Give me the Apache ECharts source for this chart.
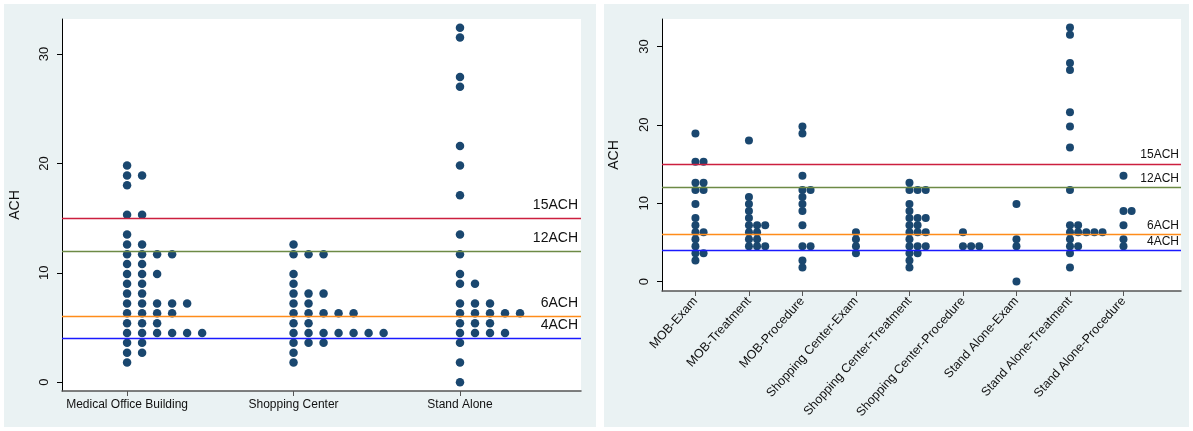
<!DOCTYPE html>
<html>
<head>
<meta charset="utf-8">
<title>ACH by building and room type</title>
<script src="https://cdn.jsdelivr.net/npm/echarts@6/dist/echarts.min.js"></script>
<style>
  html, body { margin: 0; padding: 0; background: #ffffff; }
  #chart { width: 1193px; height: 431px; }
</style>
</head>
<body>
<div id="chart"></div>
<script>
// Air changes per hour (ACH), binned values, one entry per room measured
const buildingTypes = ['Medical Office Building', 'Shopping Center', 'Stand Alone'];
const roomGroups = [
  'MOB-Exam', 'MOB-Treatment', 'MOB-Procedure',
  'Shopping Center-Exam', 'Shopping Center-Treatment', 'Shopping Center-Procedure',
  'Stand Alone-Exam', 'Stand Alone-Treatment', 'Stand Alone-Procedure'
];

const mobExam = [18.9, 15.3, 15.3, 12.6, 12.6, 11.7, 11.7, 9.9, 8.1, 7.2, 6.3, 6.3, 5.4, 4.5, 3.6, 3.6, 2.7];
const mobTreatment = [18.0, 10.8, 9.9, 9.0, 8.1, 7.2, 7.2, 7.2, 6.3, 6.3, 5.4, 5.4, 4.5, 4.5, 4.5];
const mobProcedure = [19.8, 18.9, 13.5, 11.7, 11.7, 10.8, 9.9, 9.0, 7.2, 4.5, 4.5, 2.7, 1.8];

const shopExam = [6.3, 5.4, 4.5, 3.6];
const shopTreatment = [12.6, 11.7, 11.7, 11.7, 9.9, 9.0, 8.1, 8.1, 8.1, 7.2, 7.2, 6.3, 6.3, 6.3, 5.4, 4.5, 4.5, 4.5, 3.6, 3.6, 2.7, 1.8];
const shopProcedure = [6.3, 4.5, 4.5, 4.5];

const standExam = [9.9, 5.4, 4.5, 0];
const standTreatment = [32.4, 31.5, 27.9, 27.0, 21.6, 19.8, 17.1, 11.7, 7.2, 7.2, 6.3, 6.3, 6.3, 6.3, 6.3, 5.4, 4.5, 4.5, 3.6, 1.8];
const standProcedure = [13.5, 9.0, 9.0, 7.2, 5.4, 4.5];

const yTicks = [0, 10, 20, 30];
const refLevels = [15, 12, 6, 4];
const refLabels = ['15ACH', '12ACH', '6ACH', '4ACH'];

// Building-level groups are the union of their room types
const buildingGroups = [
  mobExam.concat(mobTreatment, mobProcedure),
  shopExam.concat(shopTreatment, shopProcedure),
  standExam.concat(standTreatment, standProcedure)
];
const roomData = [
  mobExam, mobTreatment, mobProcedure,
  shopExam, shopTreatment, shopProcedure,
  standExam, standTreatment, standProcedure
];

// Dot plot layout: equal values in a group are stacked side by side to the right
function stackDots(groups, step) {
  const pts = [];
  groups.forEach(function (vals, i) {
    const count = {};
    vals.forEach(function (v) {
      const key = v.toFixed(1);
      const n = count[key] || 0;
      count[key] = n + 1;
      pts.push([i + 1 + n * step, v]);
    });
  });
  return pts;
}

const dotColor = '#1a476f';
const refColors = ['#cc1f3f', '#6d8a45', '#ff8c1a', '#1a1aff'];
const panelFill = '#eaf2f3';
const fontFamily = 'Liberation Sans, Arial, sans-serif';

function refLines(fontSize, dist) {
  return {
    silent: true,
    symbol: 'none',
    animation: false,
    label: {
      position: 'insideEndTop',
      color: '#111',
      fontSize: fontSize,
      fontFamily: fontFamily,
      distance: dist
    },
    data: refLevels.map(function (v, i) {
      return {
        yAxis: v,
        lineStyle: { color: refColors[i], width: 1.3, type: 'solid' },
        label: { formatter: refLabels[i] }
      };
    })
  };
}

function yAxisFor(gridIndex, min, max, nameGap) {
  return {
    gridIndex: gridIndex,
    type: 'value',
    min: min,
    max: max,
    name: 'ACH',
    nameLocation: 'middle',
    nameRotate: 90,
    nameGap: nameGap,
    nameTextStyle: { fontSize: 14, color: '#111', fontFamily: fontFamily },
    axisLine: { show: true, onZero: false, lineStyle: { color: '#000', width: 1 } },
    axisTick: { show: true, customValues: yTicks, length: 5, lineStyle: { color: '#000', width: 1 } },
    axisLabel: {
      customValues: yTicks,
      rotate: 90,
      fontSize: 13,
      color: '#111',
      margin: 11,
      fontFamily: fontFamily
    },
    splitLine: { show: false }
  };
}

const chart = echarts.init(document.getElementById('chart'), null, { renderer: 'canvas' });

chart.setOption({
  animation: false,
  backgroundColor: '#ffffff',
  graphic: [
    { type: 'rect', z: -100, silent: true, shape: { x: 4, y: 4, width: 592, height: 423 }, style: { fill: panelFill } },
    { type: 'rect', z: -100, silent: true, shape: { x: 604, y: 4, width: 585, height: 423 }, style: { fill: panelFill } }
  ],
  grid: [
    { left: 62, top: 19, width: 519, height: 372, show: true, backgroundColor: '#ffffff', borderWidth: 0 },
    { left: 662, top: 19, width: 519, height: 272, show: true, backgroundColor: '#ffffff', borderWidth: 0 }
  ],
  xAxis: [
    {
      gridIndex: 0,
      type: 'value',
      min: 0.609,
      max: 3.727,
      axisLine: { onZero: false, lineStyle: { color: '#555', width: 1.5 } },
      axisTick: { customValues: [1, 2, 3], length: 5, lineStyle: { color: '#555', width: 1 } },
      axisLabel: {
        customValues: [1, 2, 3],
        formatter: function (v) { return buildingTypes[Math.round(v) - 1]; },
        fontSize: 12,
        color: '#111',
        margin: 8,
        fontFamily: fontFamily
      },
      splitLine: { show: false }
    },
    {
      gridIndex: 1,
      type: 'value',
      min: 0.375,
      max: 10.075,
      axisLine: { onZero: false, lineStyle: { color: '#555', width: 1.5 } },
      axisTick: { customValues: [1, 2, 3, 4, 5, 6, 7, 8, 9], length: 5, lineStyle: { color: '#555', width: 1 } },
      axisLabel: {
        customValues: [1, 2, 3, 4, 5, 6, 7, 8, 9],
        formatter: function (v) { return roomGroups[Math.round(v) - 1]; },
        rotate: 48,
        fontSize: 12.5,
        color: '#111',
        margin: 8,
        fontFamily: fontFamily
      },
      splitLine: { show: false }
    }
  ],
  yAxis: [
    yAxisFor(0, -0.8, 33.2, 40),
    yAxisFor(1, -1.2, 33.5, 41)
  ],
  series: [
    {
      type: 'scatter',
      xAxisIndex: 0,
      yAxisIndex: 0,
      symbol: 'circle',
      symbolSize: 8.5,
      itemStyle: { color: dotColor, opacity: 1 },
      z: 3,
      data: stackDots(buildingGroups, 0.0902)
    },
    {
      type: 'line',
      xAxisIndex: 0,
      yAxisIndex: 0,
      data: [],
      z: 2,
      markLine: refLines(14, [3, 6])
    },
    {
      type: 'scatter',
      xAxisIndex: 1,
      yAxisIndex: 1,
      symbol: 'circle',
      symbolSize: 8,
      itemStyle: { color: dotColor, opacity: 1 },
      z: 3,
      data: stackDots(roomData, 0.152)
    },
    {
      type: 'line',
      xAxisIndex: 1,
      yAxisIndex: 1,
      data: [],
      z: 2,
      markLine: refLines(12, [2, 3])
    }
  ]
});
</script>
</body>
</html>
